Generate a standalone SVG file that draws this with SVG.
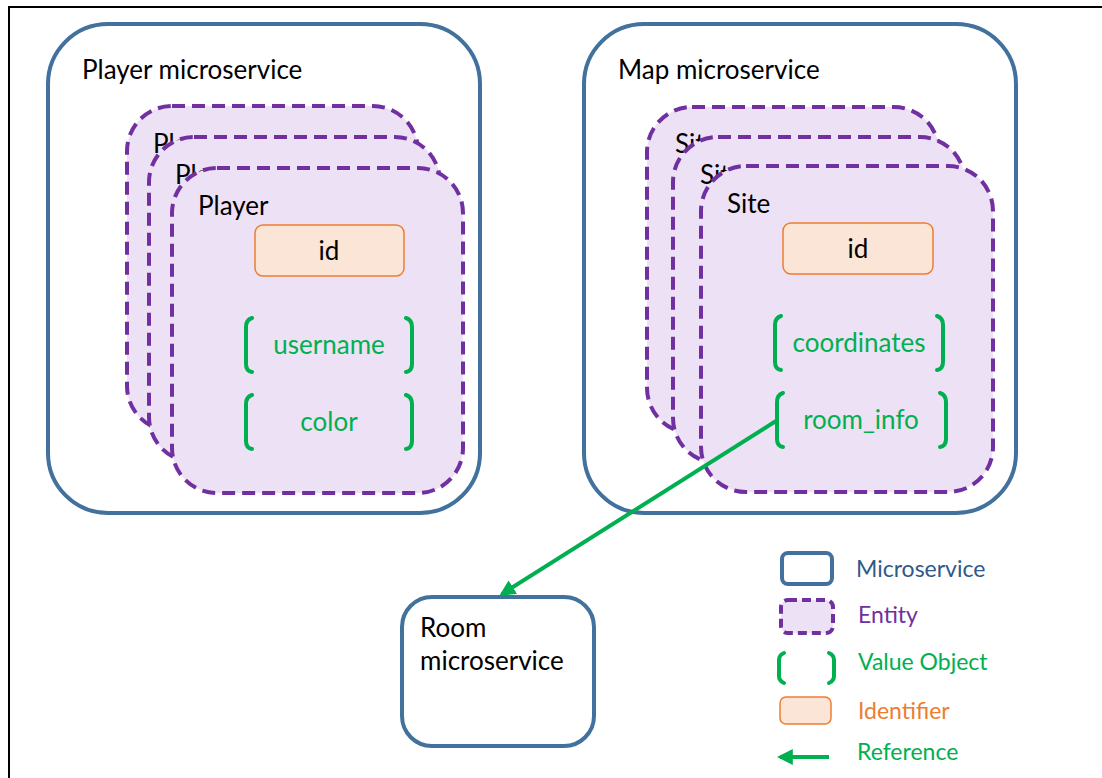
<svg xmlns="http://www.w3.org/2000/svg" width="1102" height="778" viewBox="0 0 1102 778">
<defs>
<style>
.ms{fill:#fff;stroke:#41719c;stroke-width:4}
.ent{fill:#ede1f5;stroke:#7030a0;stroke-width:4;stroke-dasharray:13 7}
.idb{fill:#fbe5d6;stroke:#ed7d31;stroke-width:1.5}
.br{fill:none;stroke:#00b050;stroke-width:4;stroke-linecap:round}
.t{font-family:Lato,"Liberation Sans",sans-serif;font-size:26px;fill:#000}
.l{font-size:23px}
.g{fill:#00b050}
.c{text-anchor:middle}
</style>
<marker id="ah" viewBox="0 0 10 10" refX="8" refY="5" markerWidth="4" markerHeight="4" orient="auto">
<path d="M0,0 L10,5 L0,10 z" fill="#00b050"/>
</marker>
</defs>
<rect width="1102" height="778" fill="#fff"/>
<path d="M9,778 L9,7 L1102,7" fill="none" stroke="#000" stroke-width="2"/>

<g id="player-ms">
<rect class="ms" x="48" y="24" width="432" height="489" rx="60"/>
<text class="t" x="82" y="79">Player microservice</text>
</g>
<g id="player-entity-3">
<rect class="ent" x="127" y="106" width="291" height="325" rx="45"/>
<text class="t" x="153" y="153">Player</text>
</g>
<g id="player-entity-2">
<rect class="ent" x="149" y="137" width="291" height="325" rx="45"/>
<text class="t" x="175" y="184">Player</text>
</g>
<g id="player-entity">
<rect class="ent" x="172" y="168" width="291" height="325" rx="45"/>
<text class="t" x="198" y="215">Player</text>
</g>
<g id="player-id">
<rect class="idb" x="255" y="225" width="149" height="51" rx="8"/>
<text class="t c" x="329" y="260">id</text>
</g>
<g id="player-username">
<path class="br" d="M252,318 Q246,320 246,327 L246,364 Q246,371 252,372 M406,318 Q412,320 412,327 L412,364 Q412,371 406,372"/>
<text class="t g c" x="329" y="354">username</text>
</g>
<g id="player-color">
<path class="br" d="M252,395 Q246,397 246,404 L246,441 Q246,448 252,449 M406,395 Q412,397 412,404 L412,441 Q412,448 406,449"/>
<text class="t g c" x="329" y="431">color</text>
</g>

<g id="map-ms">
<rect class="ms" x="584" y="24" width="432" height="489" rx="60"/>
<text class="t" x="618" y="79">Map microservice</text>
</g>
<g id="site-entity-3">
<rect class="ent" x="647" y="107" width="292" height="326" rx="45"/>
<text class="t" x="675" y="153">Site</text>
</g>
<g id="site-entity-2">
<rect class="ent" x="673" y="137" width="292" height="326" rx="45"/>
<text class="t" x="700" y="184">Site</text>
</g>
<g id="site-entity">
<rect class="ent" x="701" y="166" width="292" height="326" rx="45"/>
<text class="t" x="727" y="213">Site</text>
</g>
<g id="site-id">
<rect class="idb" x="783" y="223" width="150" height="51" rx="8"/>
<text class="t c" x="858" y="258">id</text>
</g>
<g id="site-coordinates">
<path class="br" d="M781,316 Q775,318 775,325 L775,362 Q775,369 781,370 M937,316 Q943,318 943,325 L943,362 Q943,369 937,370"/>
<text class="t g c" x="859" y="352">coordinates</text>
</g>
<g id="site-room-info">
<path class="br" d="M783,393 Q777,395 777,402 L777,439 Q777,446 783,447 M940,393 Q946,395 946,402 L946,439 Q946,446 940,447"/>
<text class="t g c" x="861" y="429">room_info</text>
</g>

<g id="room-ms">
<rect class="ms" x="402" y="597" width="192" height="149" rx="30"/>
<text class="t" x="420" y="637">Room</text>
<text class="t" x="420" y="670">microservice</text>
</g>

<g id="connectors">
<line x1="776" y1="421" x2="502" y2="594" stroke="#00b050" stroke-width="4" marker-end="url(#ah)"/>
</g>

<g id="legend">
<rect class="ms" x="782" y="553" width="50" height="31" rx="6"/>
<text class="t l" x="856" y="577" style="fill:#2e5a8a">Microservice</text>
<rect class="ent" x="781" y="600" width="52" height="33" rx="7" style="stroke-dasharray:9 5"/>
<text class="t l" x="858" y="623" style="fill:#7030a0">Entity</text>
<path class="br" d="M784,653 Q779,655 779,660 L779,676 Q779,681 784,683 M829,653 Q834,655 834,660 L834,676 Q834,681 829,683"/>
<text class="t l g" x="858" y="670">Value Object</text>
<rect class="idb" x="780" y="697" width="51" height="27" rx="6"/>
<text class="t l" x="858" y="719" style="fill:#ed7d31">Identifier</text>
<line x1="829" y1="757" x2="780" y2="757" stroke="#00b050" stroke-width="4" marker-end="url(#ah)"/>
<text class="t l g" x="857" y="760">Reference</text>
</g>
</svg>
